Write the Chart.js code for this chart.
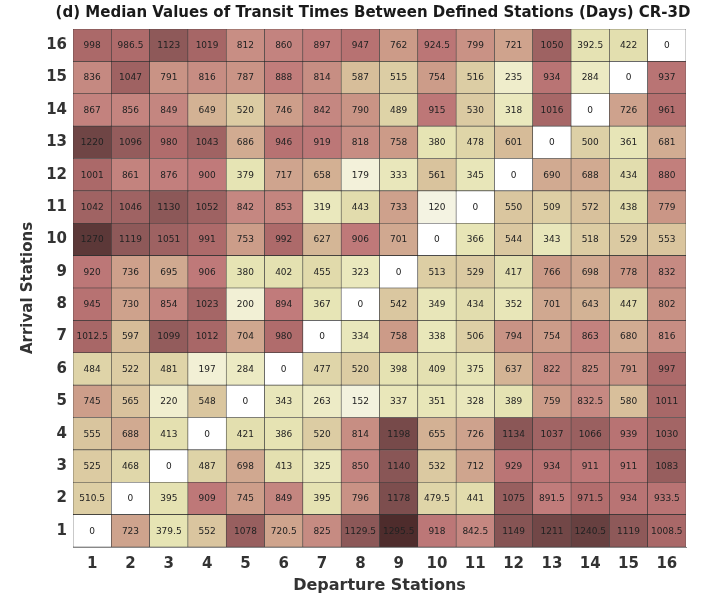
<!DOCTYPE html>
<html lang="en">
<head>
<meta charset="UTF-8">
<title>Median Transit Times CR-3D</title>
<style>
    body { margin: 0; background: #fff; }
    #heat { display: block; }
</style>
</head>
<body>
<canvas id="heat" width="721" height="597"></canvas>

<script src="https://cdn.jsdelivr.net/npm/chart.js"></script>
<script>
    // Station numbers on both axes
    const departureStations = [1, 2, 3, 4, 5, 6, 7, 8, 9, 10, 11, 12, 13, 14, 15, 16];
    const arrivalStations = [1, 2, 3, 4, 5, 6, 7, 8, 9, 10, 11, 12, 13, 14, 15, 16];

    // Median transit time (days), one array per arrival station, indexed by departure station
    const arrival1  = [0, 723, 379.5, 552, 1078, 720.5, 825, 1129.5, 1295.5, 918, 842.5, 1149, 1211, 1240.5, 1119, 1008.5];
    const arrival2  = [510.5, 0, 395, 909, 745, 849, 395, 796, 1178, 479.5, 441, 1075, 891.5, 971.5, 934, 933.5];
    const arrival3  = [525, 468, 0, 487, 698, 413, 325, 850, 1140, 532, 712, 929, 934, 911, 911, 1083];
    const arrival4  = [555, 688, 413, 0, 421, 386, 520, 814, 1198, 655, 726, 1134, 1037, 1066, 939, 1030];
    const arrival5  = [745, 565, 220, 548, 0, 343, 263, 152, 337, 351, 328, 389, 759, 832.5, 580, 1011];
    const arrival6  = [484, 522, 481, 197, 284, 0, 477, 520, 398, 409, 375, 637, 822, 825, 791, 997];
    const arrival7  = [1012.5, 597, 1099, 1012, 704, 980, 0, 334, 758, 338, 506, 794, 754, 863, 680, 816];
    const arrival8  = [945, 730, 854, 1023, 200, 894, 367, 0, 542, 349, 434, 352, 701, 643, 447, 802];
    const arrival9  = [920, 736, 695, 906, 380, 402, 455, 323, 0, 513, 529, 417, 766, 698, 778, 832];
    const arrival10 = [1270, 1119, 1051, 991, 753, 992, 627, 906, 701, 0, 366, 544, 343, 518, 529, 553];
    const arrival11 = [1042, 1046, 1130, 1052, 842, 853, 319, 443, 733, 120, 0, 550, 509, 572, 438, 779];
    const arrival12 = [1001, 861, 876, 900, 379, 717, 658, 179, 333, 561, 345, 0, 690, 688, 434, 880];
    const arrival13 = [1220, 1096, 980, 1043, 686, 946, 919, 818, 758, 380, 478, 601, 0, 500, 361, 681];
    const arrival14 = [867, 856, 849, 649, 520, 746, 842, 790, 489, 915, 530, 318, 1016, 0, 726, 961];
    const arrival15 = [836, 1047, 791, 816, 787, 888, 814, 587, 515, 754, 516, 235, 934, 284, 0, 937];
    const arrival16 = [998, 986.5, 1123, 1019, 812, 860, 897, 947, 762, 924.5, 799, 721, 1050, 392.5, 422, 0];

    const medianByArrival = [arrival1, arrival2, arrival3, arrival4, arrival5, arrival6, arrival7, arrival8,
        arrival9, arrival10, arrival11, arrival12, arrival13, arrival14, arrival15, arrival16];

    // Colour ramp: white -> pale yellow -> tan -> dusty pink -> dark brown
    const rampAt  = [0, 120, 180, 240, 300, 380, 450, 520, 600, 700, 760, 830, 900, 980, 1050, 1130, 1200, 1270, 1296];
    const rampHex = ['#ffffff', '#f4f3e2', '#f3f1da', '#efedca', '#ebe9c0', '#e6e4b4', '#e1dbac', '#dccca3',
        '#d6bb98', '#d0a890', '#cc9b88', '#c68a82', '#c07a7a', '#b06c6c', '#9e6262', '#8c5858',
        '#764a4a', '#5c3838', '#4e2c2c'];

    function hexToRgb(h) {
        return [parseInt(h.slice(1, 3), 16), parseInt(h.slice(3, 5), 16), parseInt(h.slice(5, 7), 16)];
    }

    function cellColour(v) {
        if (v <= rampAt[0]) return rampHex[0];
        for (let i = 1; i < rampAt.length; i++) {
            if (v <= rampAt[i]) {
                const t = (v - rampAt[i - 1]) / (rampAt[i] - rampAt[i - 1]);
                const a = hexToRgb(rampHex[i - 1]);
                const b = hexToRgb(rampHex[i]);
                const c = a.map((x, k) => Math.round(x + (b[k] - x) * t));
                return `rgb(${c[0]},${c[1]},${c[2]})`;
            }
        }
        return rampHex[rampHex.length - 1];
    }

    // One floating-bar dataset per arrival row; each bar spans its row
    const datasets = arrivalStations.map((row, r) => ({
        label: 'Arrival ' + row,
        data: departureStations.map(() => [row - 0.5, row + 0.5]),
        medians: medianByArrival[r],
        backgroundColor: medianByArrival[r].map(cellColour),
        borderColor: 'rgba(35,35,35,0.85)',
        borderWidth: 0.6,
        borderSkipped: false,
        grouped: false,
        barPercentage: 1,
        categoryPercentage: 1
    }));

    // Write each median inside its cell
    const cellText = {
        id: 'cellText',
        afterDatasetsDraw(chart) {
            const ctx = chart.ctx;
            ctx.save();
            ctx.font = '9px "DejaVu Sans"';
            ctx.fillStyle = '#222';
            ctx.textAlign = 'center';
            ctx.textBaseline = 'middle';
            chart.data.datasets.forEach((ds, di) => {
                chart.getDatasetMeta(di).data.forEach((bar, i) => {
                    const p = bar.getCenterPoint();
                    ctx.fillText(String(ds.medians[i]), p.x, p.y + 0.5);
                });
            });
            ctx.restore();
        }
    };

    // Heading sits a little right of the canvas centre, as in the source figure
    const heading = {
        id: 'heading',
        afterDraw(chart) {
            const ctx = chart.ctx;
            ctx.save();
            ctx.font = 'bold 15px "DejaVu Sans"';
            ctx.fillStyle = '#1a1a1a';
            ctx.textAlign = 'center';
            ctx.textBaseline = 'middle';
            ctx.fillText('(d) Median Values of Transit Times Between Defined Stations (Days) CR-3D', 373, 13);
            ctx.restore();
        }
    };

    const tickFont = { family: 'DejaVu Sans', weight: 'bold', size: 15 };

    new Chart(document.getElementById('heat'), {
        type: 'bar',
        data: { labels: departureStations.map(String), datasets: datasets },
        options: {
            responsive: false,
            devicePixelRatio: 1,
            animation: false,
            layout: { padding: { top: 29, right: 35, bottom: 0, left: 0 } },
            plugins: {
                legend: { display: false },
                tooltip: { enabled: false },
                title: { display: false }
            },
            scales: {
                x: {
                    type: 'category',
                    grid: { display: false, drawTicks: false },
                    border: { display: true, color: '#888', width: 1 },
                    ticks: { font: tickFont, color: '#333', padding: 8 },
                    title: {
                        display: true, text: 'Departure Stations',
                        font: { family: 'DejaVu Sans', weight: 'bold', size: 16 }, color: '#333',
                        padding: { top: 0, bottom: 2 }
                    },
                    afterFit(axis) { axis.height = 50; }
                },
                y: {
                    type: 'linear',
                    min: 0.5,
                    max: 16.5,
                    afterBuildTicks(axis) {
                        axis.ticks = arrivalStations.map(v => ({ value: v }));
                    },
                    grid: { display: false, drawTicks: false },
                    border: { display: true, color: '#888', width: 1 },
                    ticks: { font: tickFont, color: '#333', padding: 6 },
                    title: {
                        display: true, text: 'Arrival Stations',
                        font: { family: 'DejaVu Sans', weight: 'bold', size: 15 }, color: '#333',
                        padding: { top: 19, bottom: 0 }
                    },
                    afterFit(axis) { axis.width = 73; }
                }
            }
        },
        plugins: [cellText, heading]
    });
</script>
</body>
</html>
